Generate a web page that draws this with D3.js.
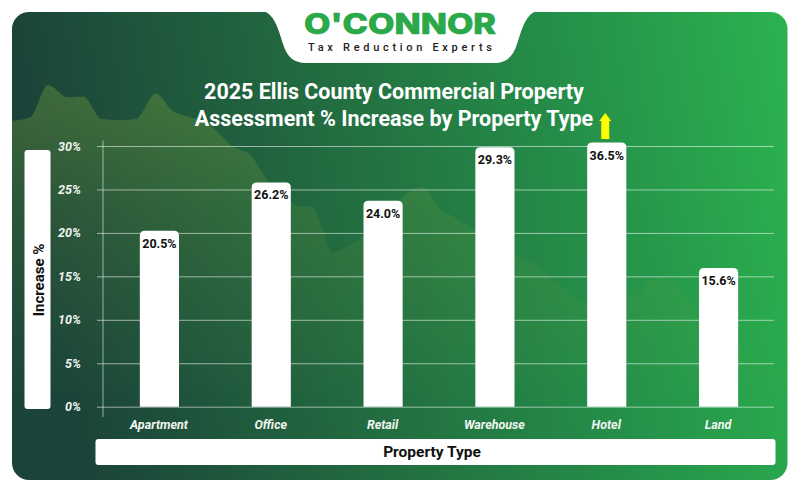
<!DOCTYPE html>
<html>
<head>
<meta charset="utf-8">
<script src="https://cdn.jsdelivr.net/npm/d3@7"></script>
<style>
  html, body { margin: 0; padding: 0; background: #fff; }
  svg { display: block; }
  text { font-family: Roboto, sans-serif; }
</style>
</head>
<body>
<div id="chart"></div>
<script>
const categories = ["Apartment", "Office", "Retail", "Warehouse", "Hotel", "Land"];
const labelValues = [20.5, 26.2, 24.0, 29.3, 36.5, 15.6];
// bar heights as drawn in the picture, they do not follow the labels exactly
const barValues = [20.25, 25.8, 23.7, 29.85, 30.4, 15.95];
const yTicks = [0, 5, 10, 15, 20, 25, 30];

// hills behind the chart, read in picture x and in % on the y axis
const ridgeX = [12, 30, 48, 68, 83, 102, 120, 136, 156, 172, 190, 205, 215, 233, 250, 267, 290, 300, 313, 320, 333, 350, 363, 424, 438, 453, 473, 517, 533, 553, 587, 627, 637, 647, 660, 677, 692, 705, 740, 788];
const ridgeY = [32.9, 33.3, 37.0, 35.6, 35.7, 33.1, 33.0, 33.1, 36.0, 34.1, 33.3, 32.8, 31.9, 29.9, 29.0, 26.1, 23.6, 23.0, 23.0, 21.2, 17.8, 18.6, 19.6, 25.3, 22.9, 21.9, 20.4, 17.3, 16.6, 14.6, 12.1, 13.1, 12.7, 14.3, 15.0, 13.8, 11.5, 10.0, 6.6, 4.3];

const width = 800, height = 492;
const plotLeft = 103, plotRight = 774, plotTop = 146, plotBottom = 406.7;

const svg = d3.select("#chart").append("svg")
  .attr("width", width)
  .attr("height", height);

const defs = svg.append("defs");

const bg = defs.append("linearGradient").attr("id", "bg")
  .attr("x1", 0).attr("y1", 0.1).attr("x2", 1).attr("y2", 0);
bg.append("stop").attr("offset", 0).attr("stop-color", "#1b4339");
bg.append("stop").attr("offset", 0.35).attr("stop-color", "#22683f");
bg.append("stop").attr("offset", 0.7).attr("stop-color", "#258f49");
bg.append("stop").attr("offset", 1).attr("stop-color", "#2bb34f");

const hill = defs.append("linearGradient").attr("id", "hill")
  .attr("gradientUnits", "userSpaceOnUse")
  .attr("x1", 0).attr("y1", 85).attr("x2", 0).attr("y2", 400);
hill.append("stop").attr("offset", 0).attr("stop-color", "#6f9a3c").attr("stop-opacity", 0.42);
hill.append("stop").attr("offset", 0.4).attr("stop-color", "#6f9a3c").attr("stop-opacity", 0.2);
hill.append("stop").attr("offset", 1).attr("stop-color", "#6f9a3c").attr("stop-opacity", 0);

defs.append("clipPath").attr("id", "card").append("rect")
  .attr("x", 12).attr("y", 12).attr("width", 775.5).attr("height", 468).attr("rx", 17);

const x = d3.scaleBand().domain(categories).range([plotLeft + 0.5, plotRight + 0.5])
  .paddingInner(0.65).paddingOuter(0.325);
const y = d3.scaleLinear().domain([0, 30]).range([plotBottom, plotTop]);

// background
svg.append("rect")
  .attr("x", 12).attr("y", 12).attr("width", 775.5).attr("height", 468).attr("rx", 17)
  .attr("fill", "url(#bg)");

const area = d3.area()
  .x((d) => d[0])
  .y0(480)
  .y1((d) => y(d[1]))
  .curve(d3.curveMonotoneX);

svg.append("path")
  .datum(d3.zip(ridgeX, ridgeY))
  .attr("clip-path", "url(#card)")
  .attr("fill", "url(#hill)")
  .attr("d", area);

// logo tab
svg.append("path")
  .attr("fill", "#fff")
  .attr("d", "M266,10 L266,12 C276,18 279,32 283,44 C287,57 294,63 306,63 L494,63 C506,63 513,57 517,44 C521,32 524,18 534,12 L534,10 Z");

svg.append("text")
  .attr("x", 400).attr("y", 34)
  .attr("text-anchor", "middle")
  .attr("textLength", 192)
  .attr("lengthAdjust", "spacingAndGlyphs")
  .style("font-family", "Inter, sans-serif")
  .style("font-size", "28px")
  .style("font-weight", 800)
  .attr("fill", "#2aa84a")
  .attr("stroke", "#2aa84a")
  .attr("stroke-width", 0.7)
  .text("O'CONNOR");

svg.append("text")
  .attr("x", 400).attr("y", 51)
  .attr("text-anchor", "middle")
  .attr("textLength", 184)
  .style("font-size", "11px")
  .style("font-weight", 500)
  .attr("fill", "#222")
  .text("Tax Reduction Experts");

// title
const title = svg.append("text")
  .attr("text-anchor", "middle")
  .attr("fill", "#fff")
  .style("font-size", "21.5px")
  .style("font-weight", 700);
title.append("tspan").attr("x", 394).attr("y", 98.5).text("2025 Ellis County Commercial Property");
title.append("tspan").attr("x", 394).attr("y", 125.5).text("Assessment % Increase by Property Type");

// gridlines and ticks
const yAxis = d3.axisLeft(y)
  .tickValues(yTicks)
  .tickFormat((d) => d + "%")
  .tickSize(plotLeft - 97)
  .tickPadding(16);

const yG = svg.append("g").attr("transform", `translate(${plotLeft},0)`).call(yAxis);
yG.select(".domain").remove();
yG.selectAll(".tick line")
  .attr("x2", plotRight - plotLeft)
  .attr("x1", -6)
  .attr("stroke", "#fff")
  .attr("stroke-opacity", 0.55)
  .attr("stroke-width", 1);
yG.selectAll(".tick text")
  .attr("fill", "#f2f5f0")
  .style("font-size", "12.5px")
  .style("font-weight", 700)
  .style("font-style", "italic");

svg.append("line")
  .attr("x1", plotLeft).attr("x2", plotLeft)
  .attr("y1", 140.5).attr("y2", 417)
  .attr("stroke", "#fff")
  .attr("stroke-opacity", 0.55);

const xAxis = d3.axisBottom(x).tickSize(0).tickPadding(13);
const xG = svg.append("g").attr("transform", `translate(-0.5,${plotBottom})`).call(xAxis);
xG.select(".domain").remove();
xG.selectAll(".tick text")
  .attr("fill", "#f2f5f0")
  .style("font-size", "12.5px")
  .style("font-weight", 700)
  .style("font-style", "italic");

// bars, rounded on top only
const r = 5;
function barPath(d, i) {
  const x0 = x(categories[i]), x1 = x0 + x.bandwidth();
  const y0 = y(d);
  return `M${x0},${plotBottom}V${y0 + r}Q${x0},${y0} ${x0 + r},${y0}H${x1 - r}Q${x1},${y0} ${x1},${y0 + r}V${plotBottom}Z`;
}

svg.append("g").selectAll("path")
  .data(barValues)
  .join("path")
  .attr("fill", "#fff")
  .attr("d", barPath);

svg.append("g").selectAll("text")
  .data(labelValues)
  .join("text")
  .attr("x", (d, i) => x(categories[i]) + x.bandwidth() / 2)
  .attr("y", (d, i) => y(barValues[i]) + 17)
  .attr("text-anchor", "middle")
  .attr("fill", "#111")
  .style("font-size", "12.5px")
  .style("font-weight", 700)
  .text((d) => d.toFixed(1) + "%");

// yellow arrow over Hotel
const hotelX = x("Hotel") + x.bandwidth() / 2 - 1.5;
svg.append("path")
  .attr("fill", "#ffff00")
  .attr("d", d3.line()([
    [hotelX - 4, 139], [hotelX + 4, 139], [hotelX + 4, 121], [hotelX + 6, 121],
    [hotelX, 113], [hotelX - 6, 121], [hotelX - 4, 121]
  ]) + "Z");

// axis title boxes
svg.append("rect")
  .attr("x", 24.5).attr("y", 150).attr("width", 26).attr("height", 259).attr("rx", 3)
  .attr("fill", "#fff");
svg.append("text")
  .attr("transform", "translate(43.5,280) rotate(-90)")
  .attr("text-anchor", "middle")
  .attr("fill", "#111")
  .style("font-size", "15px")
  .style("font-weight", 700)
  .text("Increase %");

svg.append("rect")
  .attr("x", 95.5).attr("y", 439).attr("width", 680).attr("height", 26).attr("rx", 3)
  .attr("fill", "#fff");
svg.append("text")
  .attr("x", 432).attr("y", 457)
  .attr("text-anchor", "middle")
  .attr("fill", "#111")
  .style("font-size", "15.5px")
  .style("font-weight", 700)
  .text("Property Type");
</script>
</body>
</html>
